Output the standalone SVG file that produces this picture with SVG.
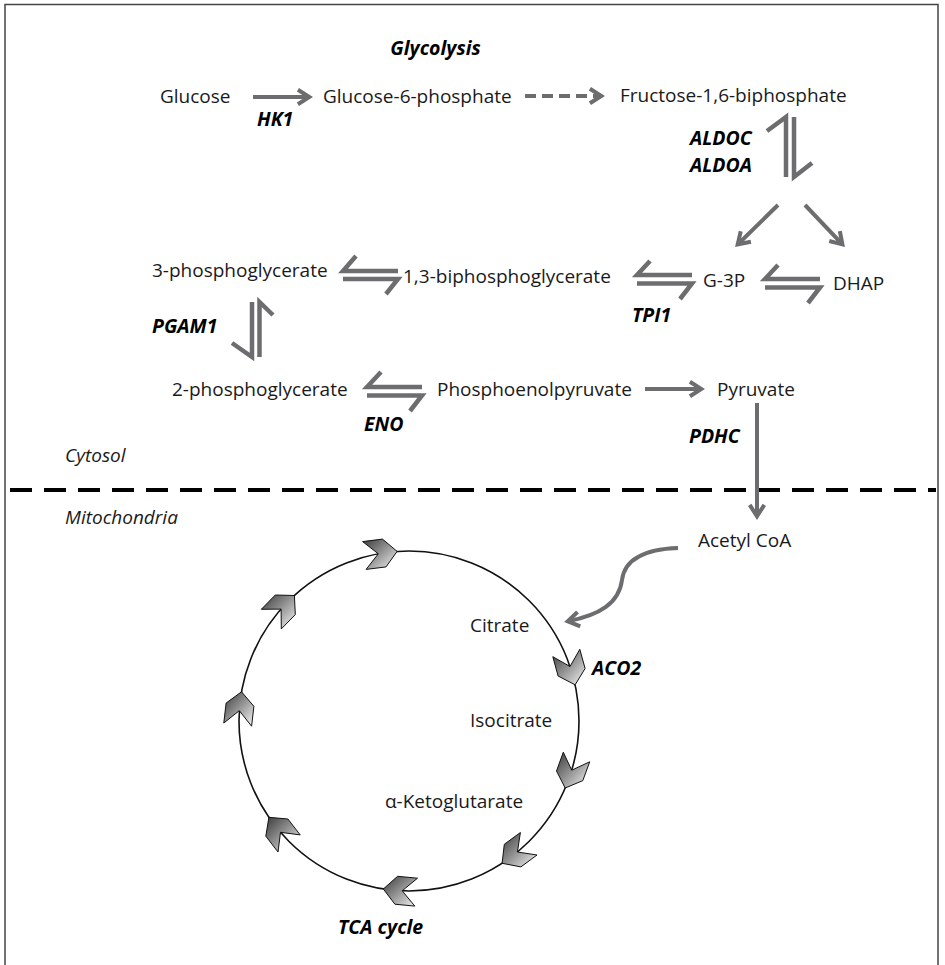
<svg xmlns="http://www.w3.org/2000/svg" width="945" height="965" viewBox="0 0 945 965">
<defs>
<style>
.t{font-family:"Open Sans","Noto Sans","DejaVu Sans",sans-serif;font-size:19px;fill:#1a1a1a}
.b{font-weight:700;font-style:italic;fill:#000;font-size:19.5px}
.i{font-style:italic}
.arr{stroke:#6d6d6f;stroke-width:4;fill:none;marker-end:url(#ah)}
.h{stroke:#6d6d6f;stroke-width:4.5;fill:none;stroke-linejoin:miter}
.chev{fill:url(#cg);stroke:#111;stroke-width:1}
</style>
<marker id="ah" markerUnits="userSpaceOnUse" markerWidth="30" markerHeight="30" viewBox="-20 -15 30 30" refX="-4" refY="0" orient="auto">
<polygon points="0,0 -14,-9 -16.2,-5.6 -7.4,0 -16.2,5.6 -14,9" fill="#6d6d6f"/>
</marker>
<linearGradient id="cg" x1="0" y1="0" x2="1" y2="1">
<stop offset="0" stop-color="#3a3a3a"/>
<stop offset="0.45" stop-color="#8c8c8c"/>
<stop offset="1" stop-color="#f6f6f6"/>
</linearGradient>
</defs>
<rect x="5" y="4.5" width="933" height="1000" fill="#fff" stroke="#444" stroke-width="1.5"/>
<line x1="10" y1="490" x2="936" y2="490" stroke="#000" stroke-width="4" stroke-dasharray="22 12"/>

<g id="labels">
<text class="t b" x="435.5" y="55" text-anchor="middle">Glycolysis</text>
<text class="t i" x="65" y="462">Cytosol</text>
<text class="t i" x="65" y="524">Mitochondria</text>
<text class="t b" x="338" y="934">TCA cycle</text>
</g>

<g id="n-glucose"><text class="t" x="160" y="103">Glucose</text></g>
<g id="n-g6p"><text class="t" x="323" y="103">Glucose-6-phosphate</text></g>
<g id="n-f16bp"><text class="t" x="620" y="102">Fructose-1,6-biphosphate</text></g>
<g id="n-3pg"><text class="t" x="152" y="277">3-phosphoglycerate</text></g>
<g id="n-13bpg"><text class="t" x="403" y="283">1,3-biphosphoglycerate</text></g>
<g id="n-g3p"><text class="t" x="703" y="287">G-3P</text></g>
<g id="n-dhap"><text class="t" x="833" y="290">DHAP</text></g>
<g id="n-2pg"><text class="t" x="172" y="396">2-phosphoglycerate</text></g>
<g id="n-pep"><text class="t" x="437" y="396">Phosphoenolpyruvate</text></g>
<g id="n-pyr"><text class="t" x="717" y="396">Pyruvate</text></g>
<g id="n-acoa"><text class="t" x="698" y="547">Acetyl CoA</text></g>
<g id="n-cit"><text class="t" x="470" y="632">Citrate</text></g>
<g id="n-iso"><text class="t" x="470" y="727">Isocitrate</text></g>
<g id="n-akg"><text class="t" x="385" y="808">α-Ketoglutarate</text></g>

<g id="enzymes">
<text class="t b" x="257" y="126">HK1</text>
<text class="t b" x="690" y="145">ALDOC</text>
<text class="t b" x="690" y="172">ALDOA</text>
<text class="t b" x="632" y="322">TPI1</text>
<text class="t b" x="152" y="333">PGAM1</text>
<text class="t b" x="364" y="431">ENO</text>
<text class="t b" x="689" y="443">PDHC</text>
<text class="t b" x="592" y="675">ACO2</text>
</g>

<g id="connectors">
<path class="arr" d="M253,97 H309"/>
<path class="arr" d="M525,96 H601" stroke-dasharray="11 6"/>
<path class="arr" d="M778,205 L737.9,244.2"/>
<path class="arr" d="M805,205 L842.2,244.1"/>
<path class="arr" d="M645,389 H701"/>
<path class="arr" d="M757,403 V516"/>
<path class="arr" d="M678,548 C650,549 625,557 622,580 C619,603 600,615 568,621.2"/>
<path class="h" d="M356,256 L343,271 H398 M343,279 H398 L386,294"/>
<path class="h" d="M650,261 L637,275 H692 M637,283.5 H692 L680,299"/>
<path class="h" d="M778,265 L765,279 H820 M765,287.5 H820 L808,303"/>
<path class="h" d="M381,372 L367,387 H422 M367,395.5 H422 L410,411"/>
<path class="h" d="M767,131 L786,117 V177 M794,117 V177 L812,163"/>
<path class="h" d="M252,302 V357 L232,343 M259.5,357 V302 L273,315"/>
</g>

<g id="tca-cycle">
<circle cx="409" cy="721" r="170" fill="none" stroke="#111" stroke-width="1.6"/>
<polygon class="chev" points="362.6,541.6 382.5,539.1 397.1,551.4 386.0,566.9 366.1,569.4 378.3,553.8"/>
<polygon class="chev" points="261.3,609.3 275.3,595.0 294.4,595.5 295.3,614.6 281.3,628.9 281.1,609.1"/>
<polygon class="chev" points="223.8,723.0 226.1,703.1 241.5,691.8 253.9,706.3 251.6,726.2 239.3,710.7"/>
<polygon class="chev" points="278.0,852.0 265.8,836.2 268.9,817.3 287.9,819.0 300.2,834.9 280.5,832.3"/>
<polygon class="chev" points="414.8,906.1 394.9,904.2 383.3,889.0 397.6,876.3 417.5,878.2 402.2,890.8"/>
<polygon class="chev" points="537.0,855.0 520.9,866.9 502.1,863.3 504.3,844.3 520.4,832.5 517.4,852.0"/>
<polygon class="chev" points="589.7,761.8 582.8,780.6 565.2,788.0 556.5,771.0 563.3,752.2 571.7,770.2"/>
<polygon class="chev" points="579.8,649.3 585.1,668.5 575.1,684.8 558.1,676.0 552.8,656.7 570.0,666.5"/>
</g>
</svg>
